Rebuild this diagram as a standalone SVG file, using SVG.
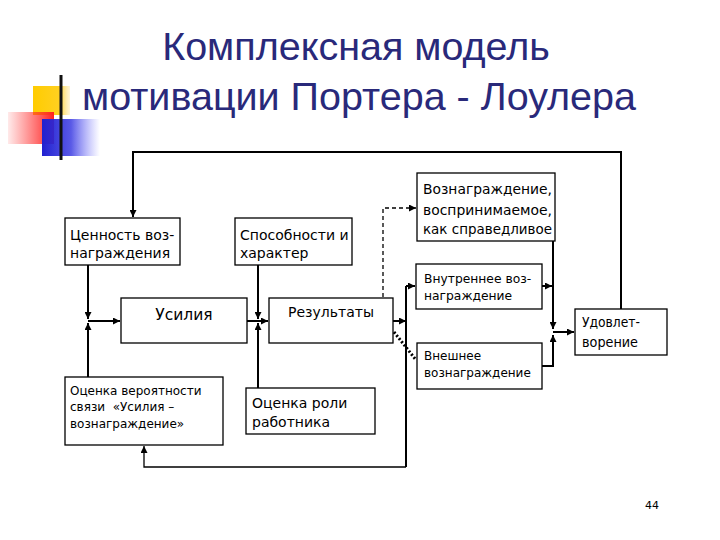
<svg xmlns="http://www.w3.org/2000/svg" width="720" height="540" viewBox="0 0 720 540">
<style>
.box{fill:#fff;stroke:#000;stroke-width:1.3}
.t{font-family:"DejaVu Sans",Verdana,sans-serif;fill:#000}
.ln{fill:none;stroke:#000;stroke-width:2}
.thin{fill:none;stroke:#000;stroke-width:1.3}
.title{font-family:"Liberation Sans",Arial,sans-serif;font-size:39.5px;fill:#29297a;text-anchor:middle}
</style>
<defs>
<marker id="ah" viewBox="0 0 10 10" refX="10" refY="5" markerWidth="7" markerHeight="7" markerUnits="userSpaceOnUse" orient="auto"><path d="M0,0L10,5L0,10z" fill="#000"/></marker>
<linearGradient id="gRed" x1="0" y1="0" x2="1" y2="0"><stop offset="0" stop-color="#ff3030" stop-opacity="0.1"/><stop offset="1" stop-color="#ff2020"/></linearGradient>
<linearGradient id="gBlue" x1="0" y1="0" x2="1" y2="0"><stop offset="0" stop-color="#2020d0"/><stop offset="0.5" stop-color="#3030e0" stop-opacity="0.8"/><stop offset="1" stop-color="#6060ff" stop-opacity="0"/></linearGradient>
<linearGradient id="gYel" x1="0" y1="0" x2="1" y2="0"><stop offset="0" stop-color="#ffcc00"/><stop offset="0.7" stop-color="#ffd020"/><stop offset="1" stop-color="#ffe080" stop-opacity="0.3"/></linearGradient>
<linearGradient id="gLine" x1="0" y1="0" x2="1" y2="0"><stop offset="0" stop-color="#000"/><stop offset="0.4" stop-color="#666"/><stop offset="1" stop-color="#ddd"/></linearGradient>
</defs>
<g id="decor">
<rect x="33" y="86" width="37" height="29" fill="url(#gYel)"/>
<rect x="8" y="112" width="46" height="32" fill="url(#gRed)"/>
<rect x="42" y="119" width="58" height="37" fill="url(#gBlue)"/>
<line x1="35" y1="141" x2="640" y2="141" stroke="url(#gLine)" stroke-width="2.5"/>
<line x1="61" y1="75" x2="61" y2="160" stroke="#111" stroke-width="3"/>
</g>
<g id="title">
<text class="title" x="356" y="60">Комплексная модель</text>
<text class="title" x="359" y="110">мотивации Портера - Лоулера</text>
</g>
<g id="connectors">
<polyline class="ln" points="621,309 621,152 133,152 133,217" marker-end="url(#ah)"/>
<polyline class="ln" points="88,265 88,319" marker-end="url(#ah)"/>
<polyline class="ln" points="88,377 88,323" marker-end="url(#ah)"/>
<polyline class="ln" points="88,321 120,321" marker-end="url(#ah)"/>
<polyline class="ln" points="258,265 258,319" marker-end="url(#ah)"/>
<polyline class="ln" points="258,388 258,323" marker-end="url(#ah)"/>
<polyline class="ln" points="247,321 268,321" marker-end="url(#ah)"/>
<polyline class="ln" points="393,321 406,321" marker-end="url(#ah)"/>
<polyline class="ln" points="406,286 406,467"/>
<polyline class="ln" points="406,286 415,286" marker-end="url(#ah)"/>
<polyline class="thin" points="406,467 144,467 144,446" marker-end="url(#ah)"/>
<polyline class="thin" points="383,297 383,208 416,208" stroke-dasharray="4 3" marker-end="url(#ah)"/>
<line x1="394" y1="332" x2="416" y2="360" stroke="#000" stroke-width="3" stroke-dasharray="2 2"/>
<polyline class="ln" points="553,241 553,329" marker-end="url(#ah)"/>
<polyline class="ln" points="542,286 552,286" marker-end="url(#ah)"/>
<polyline class="ln" points="542,366 553,366 553,335" marker-end="url(#ah)"/>
<polyline class="ln" points="553,332 574,332" marker-end="url(#ah)"/>
</g>
<g id="n-cennost">
<rect class="box" x="65" y="218" width="115" height="47"/>
<text class="t" font-size="14" x="70" y="240">Ценность воз-</text>
<text class="t" font-size="14" x="70" y="258">награждения</text>
</g>
<g id="n-sposob">
<rect class="box" x="235" y="218" width="117" height="47"/>
<text class="t" font-size="14" x="240" y="240">Способности и</text>
<text class="t" font-size="14" x="240" y="258">характер</text>
</g>
<g id="n-spravedl">
<rect class="box" x="417" y="173" width="138" height="68"/>
<text class="t" font-size="14" x="423" y="194" textLength="129" lengthAdjust="spacingAndGlyphs">Вознаграждение,</text>
<text class="t" font-size="14" x="423" y="215" textLength="129" lengthAdjust="spacingAndGlyphs">воспринимаемое,</text>
<text class="t" font-size="14" x="423" y="234" textLength="129" lengthAdjust="spacingAndGlyphs">как справедливое</text>
</g>
<g id="n-vnutr">
<rect class="box" x="416" y="264" width="126" height="45"/>
<text class="t" font-size="12.3" x="424" y="283">Внутреннее воз-</text>
<text class="t" font-size="12.3" x="424" y="300">награждение</text>
</g>
<g id="n-usilia">
<rect class="box" x="121" y="298" width="126" height="45"/>
<text class="t" font-size="15.5" x="184" y="320" text-anchor="middle">Усилия</text>
</g>
<g id="n-result">
<rect class="box" x="269" y="298" width="124" height="45"/>
<text class="t" font-size="14" x="331" y="317" text-anchor="middle">Результаты</text>
</g>
<g id="n-vneshn">
<rect class="box" x="417" y="343" width="125" height="46"/>
<text class="t" font-size="12" x="424" y="360">Внешнее</text>
<text class="t" font-size="12" x="424" y="377">вознаграждение</text>
</g>
<g id="n-udovl">
<rect class="box" x="575" y="309" width="92" height="46"/>
<text class="t" font-size="13.5" x="582" y="327" textLength="58" lengthAdjust="spacingAndGlyphs">Удовлет-</text>
<text class="t" font-size="13.5" x="582" y="347" textLength="56" lengthAdjust="spacingAndGlyphs">ворение</text>
</g>
<g id="n-ocenka-ver">
<rect class="box" x="65" y="377" width="158" height="68"/>
<text class="t" font-size="12" x="70" y="395">Оценка вероятности</text>
<text class="t" font-size="12" x="70" y="411" xml:space="preserve">связи  «Усилия –</text>
<text class="t" font-size="12" x="70" y="428">вознаграждение»</text>
</g>
<g id="n-ocenka-roli">
<rect class="box" x="246" y="388" width="129" height="46"/>
<text class="t" font-size="14" x="252" y="408">Оценка роли</text>
<text class="t" font-size="14" x="252" y="427">работника</text>
</g>
<text class="t" font-size="11" x="652" y="509" text-anchor="middle">44</text>
</svg>
